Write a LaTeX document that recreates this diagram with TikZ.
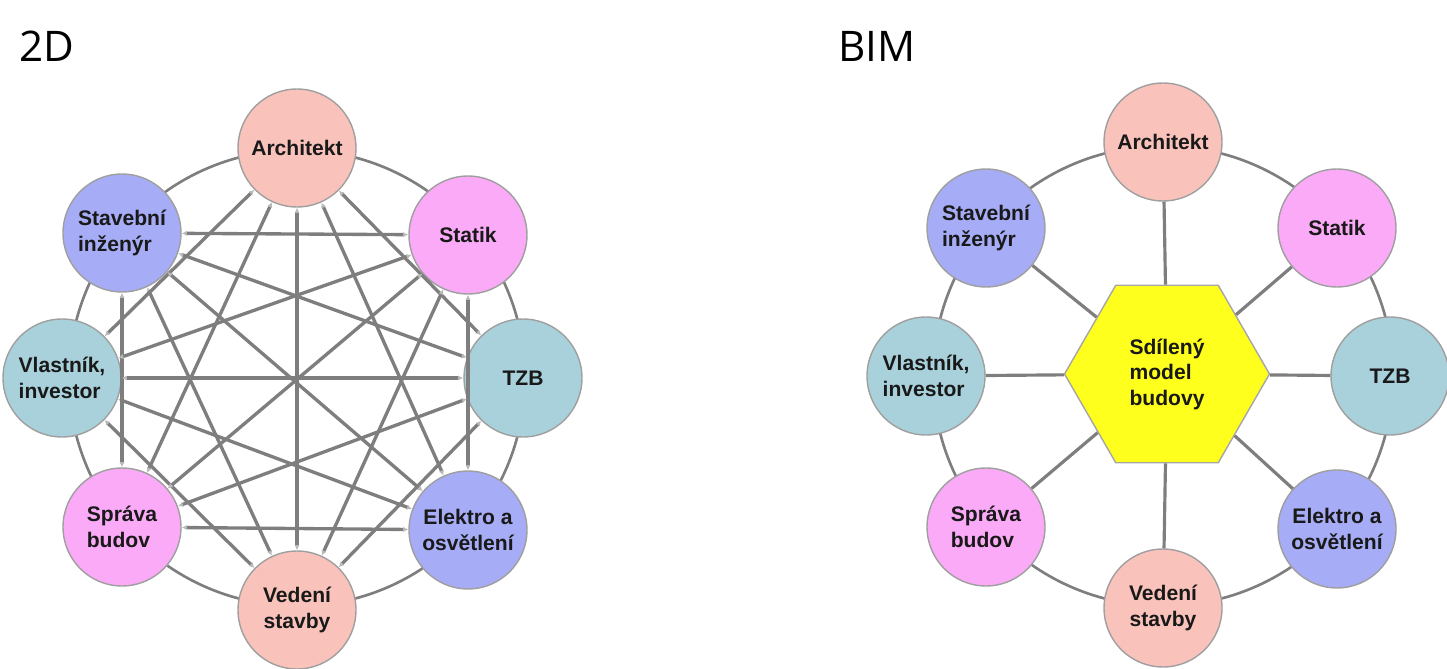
\documentclass[tikz,border=0pt]{standalone}
\usepackage{fontspec}
\setmainfont{Liberation Sans}
\newfontfamily\titlefont{Open Sans}
\usetikzlibrary{arrows.meta,shapes.geometric}
\definecolor{salmon}{HTML}{F9C3BC}
\definecolor{orchid}{HTML}{FAAAF6}
\definecolor{lavender}{HTML}{A6ACF6}
\definecolor{teal}{HTML}{A9D1DB}
\definecolor{hexyellow}{HTML}{FFFF1E}
\definecolor{linegray}{HTML}{7E7E7E}

\begin{document}
\begin{tikzpicture}[
  x=0.02cm, y=-0.02cm,
  font=\fontsize{12}{14.5}\selectfont\bfseries,
  role/.style={circle, draw=gray!75, line width=0.8pt, minimum size=2.36cm,
    inner sep=1pt, align=center, text=black!90},
  ring/.style={draw=linegray, line width=1.5pt},
  link/.style={draw=linegray, line width=1.9pt,
    {Latex[length=3pt,width=3pt,gray!55]}-{Latex[length=3pt,width=3pt,gray!55]}},
  spoke/.style={draw=linegray, line width=1.8pt},
  title/.style={font=\titlefont\fontsize{24}{28}\selectfont, anchor=base west}
]
\useasboundingbox (0,0) rectangle (1447,669);

% Titles
\node[title] (t2d) at (13,62) {2D};
\node[title] (tbim) at (832,62) {BIM};

% Outer rings (behind the nodes)
\coordinate (c2d) at (297,378);
\coordinate (cbim) at (1163,376);
\draw[ring] (c2d) circle[radius=228];
\draw[ring] (cbim) circle[radius=230];

% Left: everybody talks to everybody (d1..d8 clockwise from top)
\node[role, fill=salmon] (d1) at (297,148) {Architekt};
\node[role, fill=orchid] (d2) at (468,235) {Statik};
\node[role, fill=teal] (d3) at (523,378) {TZB};
\node[role, fill=lavender] (d4) at (468,530) {Elektro a\\osvětlení};
\node[role, fill=salmon] (d5) at (297,610) {Vedení\\stavby};
\node[role, fill=orchid, align=left] (d6) at (122,527) {Správa\\budov};
\node[role, fill=teal, align=left] (d7) at (62,378) {Vlastník,\\investor};
\node[role, fill=lavender, align=left] (d8) at (122,233) {Stavební\\inženýr};

\foreach \i in {1,...,8} {
  \foreach \s in {2,3} {
    \pgfmathtruncatemacro\j{mod(\i+\s-1,8)+1}
    \draw[link] (d\i) -- (d\j);
  }
}
\foreach \i in {1,...,4} {
  \pgfmathtruncatemacro\j{\i+4}
  \draw[link] (d\i) -- (d\j);
}

% Right: shared model in the middle (b1..b8 clockwise from top)
\node[regular polygon, regular polygon sides=6, minimum size=4.1cm,
  fill=hexyellow, draw=gray!70, line width=0.8pt, inner sep=0pt,
  align=left, text=black!90] (hex) at (1167,374) {Sdílený\\model\\budovy};

\node[role, fill=salmon] (b1) at (1163,142) {Architekt};
\node[role, fill=orchid] (b2) at (1337,228) {Statik};
\node[role, fill=teal] (b3) at (1390,376) {TZB};
\node[role, fill=lavender] (b4) at (1337,529) {Elektro a\\osvětlení};
\node[role, fill=salmon] (b5) at (1163,608) {Vedení\\stavby};
\node[role, fill=orchid, align=left] (b6) at (986,527) {Správa\\budov};
\node[role, fill=teal, align=left] (b7) at (926,376) {Vlastník,\\investor};
\node[role, fill=lavender, align=left] (b8) at (986,228) {Stavební\\inženýr};

\foreach \i in {1,...,8}
  \draw[spoke] (hex) -- (b\i);
\end{tikzpicture}
\end{document}
